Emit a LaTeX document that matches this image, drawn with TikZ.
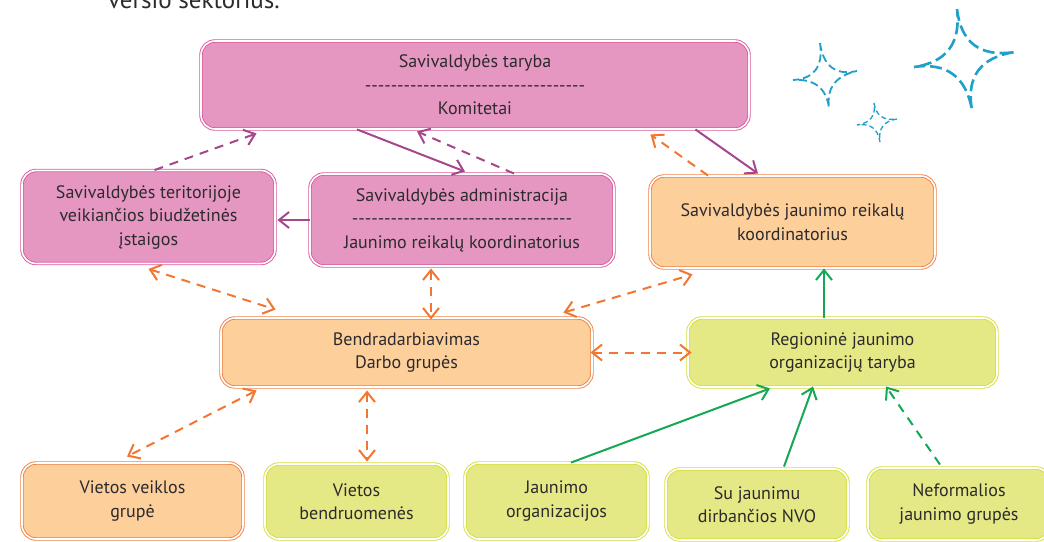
\documentclass[tikz,border=0pt]{standalone}
\usepackage{fontspec}
\setmainfont{PT Sans}
\usetikzlibrary{arrows.meta,calc}
\definecolor{pinkfill}{RGB}{229,151,194}
\definecolor{pinkline}{RGB}{219,88,160}
\definecolor{orangefill}{RGB}{252,207,155}
\definecolor{orangeline}{RGB}{240,128,70}
\definecolor{limefill}{RGB}{229,233,133}
\definecolor{limeline}{RGB}{214,222,60}
\definecolor{purplearrow}{RGB}{166,70,140}
\definecolor{orangearrow}{RGB}{242,118,48}
\definecolor{greenarrow}{RGB}{20,168,84}
\definecolor{sparkblue}{RGB}{30,160,200}
\definecolor{textgrey}{RGB}{45,42,45}
\newcommand{\dashrow}{\foreach \k in {1,...,34}{-{}}}
% sparkle: centre, then top, right, bottom, left tips
\newcommand{\sparkle}[6][]{%
  \draw[spark,#1] (#3) .. controls ($(#3)!0.667!(#2)$) and ($(#4)!0.667!(#2)$) .. (#4)
    .. controls ($(#4)!0.667!(#2)$) and ($(#5)!0.667!(#2)$) .. (#5)
    .. controls ($(#5)!0.667!(#2)$) and ($(#6)!0.667!(#2)$) .. (#6)
    .. controls ($(#6)!0.667!(#2)$) and ($(#3)!0.667!(#2)$) .. (#3);}
\tikzset{
  >={Straight Barb[length=10pt,width=16pt]},
  box/.style={rounded corners=14pt, align=center, text=textgrey,
    font=\fontsize{18}{23.5}\selectfont, inner sep=0pt,
    line width=0.9pt, double distance=1.6pt},
  pinkbox/.style={box, draw=pinkline, double=white, fill=pinkfill},
  orangebox/.style={box, draw=orangeline, double=white, fill=orangefill},
  limebox/.style={box, draw=limeline, double=white, fill=limefill},
  link/.style={line width=2pt},
  dashlink/.style={link, dash pattern=on 9pt off 7pt},
  spark/.style={draw=sparkblue, line cap=butt}
}
\begin{document}
\begin{tikzpicture}[x=1pt,y=-1pt]
  \useasboundingbox (0,0) rectangle (1044,541);
  \node[anchor=base, text=textgrey, font=\fontsize{25}{25}\selectfont]
    (heading) at (194,8) {versio sektorius.};
  % boxes
  \node[pinkbox, minimum width=548pt, minimum height=88pt] (taryba) at (475,85)
    {Savivaldybės taryba\\\dashrow\\Komitetai};
  \node[pinkbox, minimum width=253pt, minimum height=93pt] (biudz) at (148.5,217)
    {Savivaldybės teritorijoje\\veikiančios biudžetinės\\įstaigos};
  \node[pinkbox, minimum width=304pt, minimum height=92pt] (admin) at (462,220)
    {Savivaldybės administracija\\\dashrow\\Jaunimo reikalų koordinatorius};
  \node[orangebox, minimum width=285pt, minimum height=92pt] (koord) at (792.5,222)
    {Savivaldybės jaunimo reikalų\\koordinatorius};
  \node[orangebox, minimum width=371pt, minimum height=69pt] (bendra) at (406.5,352.5)
    {Bendradarbiavimas\\Darbo grupės};
  \node[limebox, minimum width=309pt, minimum height=69pt] (regio) at (842.5,352.5)
    {Regioninė jaunimo\\organizacijų taryba};
  \node[orangebox, minimum width=221pt, minimum height=76pt] (vvg) at (132.5,501)
    {Vietos veiklos\\grupė};
  \node[limebox, minimum width=183pt, minimum height=75pt] (bendruom) at (356.5,501.5)
    {Vietos\\bendruomenės};
  \node[limebox, minimum width=183pt, minimum height=76pt] (jorg) at (556.5,501)
    {Jaunimo\\organizacijos};
  \node[limebox, minimum width=182pt, minimum height=71pt] (nvo) at (757,504.5)
    {Su jaunimu\\dirbančios NVO};
  \node[limebox, minimum width=182pt, minimum height=72pt] (nefor) at (959,504)
    {Neformalios\\jaunimo grupės};
  % purple links
  \begin{scope}[purplearrow]
    \draw[dashlink,->] ([xshift=6pt]biudz.north) -- ([xshift=56pt,yshift=-4pt]taryba.south west);
    \draw[link,->] ([xshift=-118pt]taryba.south) -- ([xshift=3pt,yshift=2pt]admin.north);
    \draw[dashlink,->] ([xshift=52pt]admin.north) -- ([xshift=-58pt,yshift=-2pt]taryba.south);
    \draw[link,->] ([xshift=-54pt]taryba.south east) -- ([xshift=-34.5pt,yshift=2pt]koord.north);
    \draw[link,->] (admin.west) -- ([xshift=2pt]biudz.east |- admin.west);
  \end{scope}
  % orange links
  \begin{scope}[orangearrow]
    \draw[dashlink,->] ([xshift=-84.5pt]koord.north) -- ([xshift=-99pt,yshift=-5pt]taryba.south east);
    \draw[dashlink,<->] ([yshift=-5pt]biudz.south) -- ([xshift=55pt,yshift=8pt]bendra.north west);
    \draw[dashlink,<->] ([xshift=-31pt,yshift=-2pt]admin.south) -- ([xshift=-31pt,yshift=-2pt]admin.south |- bendra.north);
    \draw[dashlink,<->] ([xshift=-29pt,yshift=5pt]bendra.north east) -- ([xshift=43pt,yshift=-6pt]koord.south west);
    \draw[dashlink,<->] ([xshift=-2pt]bendra.east) -- ([xshift=4pt]regio.west);
    \draw[dashlink,<->] ([xshift=36pt,yshift=-3pt]bendra.south west) -- ([xshift=-5.5pt,yshift=6pt]vvg.north);
    \draw[dashlink,<->] ([xshift=-39.5pt,yshift=-3pt]bendra.south) -- ([xshift=10.5pt,yshift=2pt]bendruom.north);
  \end{scope}
  % green links
  \begin{scope}[greenarrow]
    \draw[link,->] ([xshift=-18.5pt]regio.north) -- ([xshift=-18.5pt]regio.north |- koord.south);
    \draw[link,->] ([xshift=14.5pt]jorg.north) -- ([xshift=-72.5pt,yshift=-1pt]regio.south);
    \draw[link,->] ([xshift=27pt,yshift=2pt]nvo.north) -- ([xshift=-29.5pt,yshift=1pt]regio.south);
    \draw[dashlink,->] ([xshift=-19pt,yshift=3pt]nefor.north) -- ([xshift=43.5pt,yshift=1pt]regio.south);
  \end{scope}
  % sparkles
  \sparkle[line width=2.6pt, dash pattern=on 12pt off 5pt]{963,60}{957,9}{1015,52}{972,110}{914,67}
  \sparkle[line width=1.8pt, dash pattern=on 8pt off 4pt]{825,78}{820,43}{857,71}{829,108}{793,80}
  \sparkle[line width=1.3pt, dash pattern=on 5pt off 3pt]{877,122}{874,103}{897,119}{880,142}{857,125}
\end{tikzpicture}
\end{document}
